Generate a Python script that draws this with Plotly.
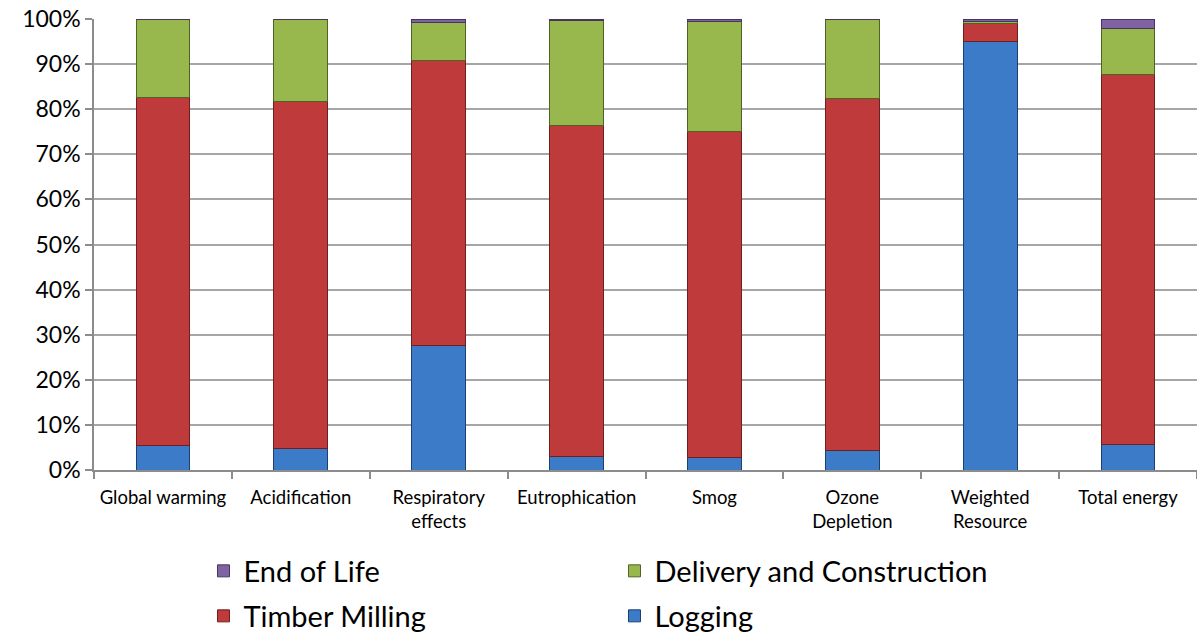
import plotly.graph_objects as go

categories = ["Global warming", "Acidification", "Respiratory<br>effects", "Eutrophication",
              "Smog", "Ozone<br>Depletion", "Weighted<br>Resource", "Total energy"]
logging = [5.5, 4.7, 27.6, 3.1, 2.7, 4.4, 95.1, 5.6]
timber_milling = [77.2, 77.1, 63.1, 73.3, 72.4, 78.0, 4.0, 82.2]
delivery_construction = [17.3, 18.2, 8.6, 23.3, 24.4, 17.4, 0.3, 10.0]
end_of_life = [0.0, 0.0, 0.7, 0.3, 0.5, 0.2, 0.6, 2.2]

series = [
    ("Logging", logging, "#3B7BC8", "#1F3F6E", "legend2"),
    ("Timber Milling", timber_milling, "#BF3B3B", "#6E1E1E", "legend2"),
    ("Delivery and Construction", delivery_construction, "#98B84D", "#4E6425", "legend"),
    ("End of Life", end_of_life, "#8064A2", "#453560", "legend"),
]

fig = go.Figure()
for name, vals, col, line, lg in series:
    fig.add_trace(go.Bar(
        x=categories, y=vals, name=name, legend=lg,
        marker=dict(color=col, line=dict(color=line, width=1)),
    ))

font_family = "Lato, 'Open Sans', sans-serif"
legend_common = dict(
    orientation="h", traceorder="reversed",
    xref="container", yref="container",
    xanchor="left", yanchor="middle",
    font=dict(size=29, family=font_family),
    entrywidth=366, entrywidthmode="pixels",
    itemwidth=30,
)
fig.update_layout(
    barmode="stack",
    bargap=0.61,
    width=1197, height=633,
    margin=dict(l=94, r=0, t=19, b=163),
    plot_bgcolor="white", paper_bgcolor="white",
    font=dict(family=font_family, color="black"),
    showlegend=True,
    legend=dict(x=0.170, y=1 - 571 / 633, **legend_common),
    legend2=dict(x=0.170, y=1 - 616 / 633, **legend_common),
)
fig.update_xaxes(
    type="category", tickson="boundaries",
    showline=True, linecolor="#8C8C8C", linewidth=1.5,
    ticks="outside", ticklen=7, tickcolor="#8C8C8C", tickwidth=1.5,
    tickfont=dict(size=18.5), showgrid=False, ticklabelstandoff=10,
    tickangle=0, automargin=False,
)
fig.update_yaxes(
    range=[0, 100], tickvals=[0, 10, 20, 30, 40, 50, 60, 70, 80, 90, 100],
    ticktext=["0%", "10%", "20%", "30%", "40%", "50%", "60%", "70%", "80%", "90%", "100%"],
    showline=True, linecolor="#8C8C8C", linewidth=1.5,
    ticks="outside", ticklen=7, tickcolor="#8C8C8C", tickwidth=1.5,
    showgrid=True, gridcolor="#A6A6A6", gridwidth=1.5,
    tickfont=dict(size=23), zeroline=False, automargin=False,
)

fig.write_html("out.html")
